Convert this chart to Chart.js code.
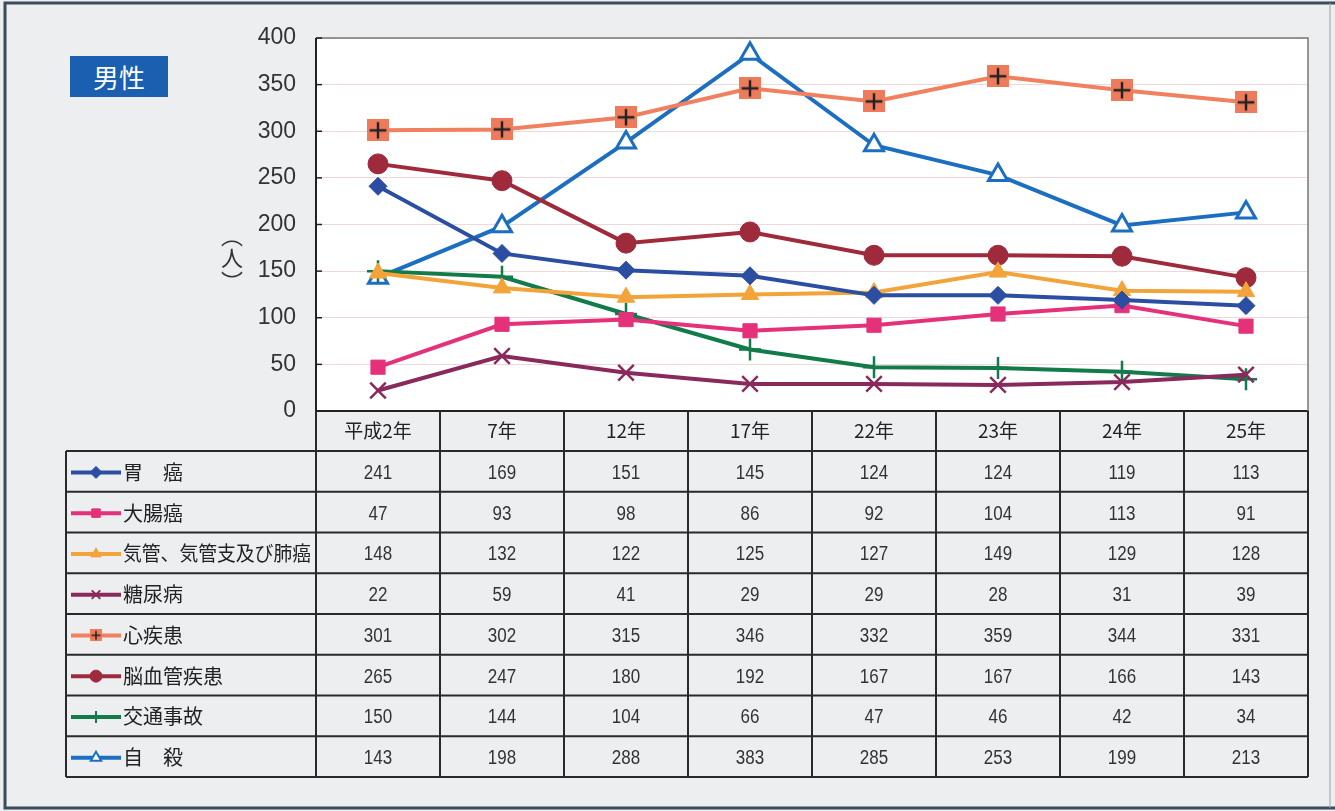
<!DOCTYPE html>
<html>
<head>
<meta charset="utf-8">
<script src="https://cdn.jsdelivr.net/npm/chart.js@4/dist/chart.umd.min.js"></script>
<style>
  body { margin: 0; background: #eceef0; }
  #wrap { position: relative; width: 1335px; height: 811px; }
  #tag {
    position: absolute; left: 70px; top: 56px; width: 98px; height: 41px;
    background: #1a5fb0; color: #fff; font: 26px "Noto Sans CJK JP", sans-serif;
    line-height: 41px; text-align: center;
  }
</style>
</head>
<body>
<div id="wrap">
  <canvas id="myChart" width="1335" height="811"></canvas>
  <div id="tag">男性</div>
</div>
<script>
// categories and series (人)
const years = ['平成2年', '7年', '12年', '17年', '22年', '23年', '24年', '25年'];
const yTicks = [0, 50, 100, 150, 200, 250, 300, 350, 400];
const names = ['胃\u3000癌', '大腸癌', '気管、気管支及び肺癌', '糖尿病', '心疾患', '脳血管疾患', '交通事故', '自\u3000殺'];
const stomach = [241, 169, 151, 145, 124, 124, 119, 113];
const colon = [47, 93, 98, 86, 92, 104, 113, 91];
const lung = [148, 132, 122, 125, 127, 149, 129, 128];
const diabetes = [22, 59, 41, 29, 29, 28, 31, 39];
const heart = [301, 302, 315, 346, 332, 359, 344, 331];
const cerebro = [265, 247, 180, 192, 167, 167, 166, 143];
const traffic = [150, 144, 104, 66, 47, 46, 42, 34];
const suicide = [143, 198, 288, 383, 285, 253, 199, 213];

const numFont = '"Liberation Sans", sans-serif';
const jpFont = '"Noto Sans CJK JP", sans-serif';

// salmon square with black plus for 心疾患
function heartMark(size) {
  const c = document.createElement('canvas');
  c.width = size; c.height = size;
  const g = c.getContext('2d');
  g.fillStyle = '#ee7c5c';
  g.fillRect(0, 0, size, size);
  g.strokeStyle = '#222';
  g.lineWidth = Math.max(1.5, size / 9);
  g.beginPath();
  g.moveTo(size / 2, size * 0.12); g.lineTo(size / 2, size * 0.88);
  g.moveTo(size * 0.12, size / 2); g.lineTo(size * 0.88, size / 2);
  g.stroke();
  return c;
}
const heartBig = heartMark(22);
const heartSmall = heartMark(12);

const series = [
  { data: stomach, color: '#2b4ea2', style: 'rectRot', r: 9, bw: 1, fill: null },
  { data: colon, color: '#e5307a', style: 'rect', r: 10, bw: 1, fill: null },
  { data: lung, color: '#f2a43a', style: 'triangle', r: 10, bw: 1, fill: null },
  { data: diabetes, color: '#8a2a5c', style: 'crossRot', r: 11, bw: 2.5, fill: null },
  { data: heart, color: '#f0805e', style: heartBig, r: 11, bw: 1, fill: null },
  { data: cerebro, color: '#9e2a3c', style: 'circle', r: 10, bw: 1, fill: null },
  { data: traffic, color: '#137a4a', style: 'cross', r: 11, bw: 2.5, fill: null },
  { data: suicide, color: '#1c6fc0', style: 'triangle', r: 11, bw: 3, fill: '#ffffff' }
];

const decor = {
  id: 'decor',
  beforeDraw(chart) {
    const ctx = chart.ctx;
    const a = chart.chartArea;
    ctx.save();
    ctx.fillStyle = '#eceef0';
    ctx.fillRect(0, 0, chart.width, chart.height);
    ctx.fillStyle = '#ffffff';
    ctx.fillRect(a.left, a.top, a.right - a.left, a.bottom - a.top);
    ctx.restore();
  },
  afterDraw(chart) {
    const ctx = chart.ctx;
    const a = chart.chartArea;
    const x = chart.scales.x;
    const y = chart.scales.y;
    ctx.save();
    // plot frame
    ctx.strokeStyle = '#777';
    ctx.lineWidth = 1.5;
    ctx.beginPath();
    ctx.moveTo(a.left, a.top); ctx.lineTo(a.right, a.top); ctx.lineTo(a.right, a.bottom);
    ctx.stroke();
    ctx.strokeStyle = '#222';
    ctx.lineWidth = 2;
    ctx.beginPath();
    ctx.moveTo(a.left, a.top); ctx.lineTo(a.left, a.bottom);
    ctx.stroke();
    // small inner tick marks on y axis
    ctx.lineWidth = 1.5;
    yTicks.forEach(v => {
      const py = y.getPixelForValue(v);
      ctx.beginPath(); ctx.moveTo(a.left, py); ctx.lineTo(a.left + 6, py); ctx.stroke();
    });

    // y unit, vertical
    ctx.fillStyle = '#333';
    ctx.font = '22px ' + jpFont;
    ctx.textAlign = 'center';
    ctx.textBaseline = 'middle';
    ctx.fillText('\uFE35', 232, 236);
    ctx.fillText('人', 232, 258);
    ctx.fillText('\uFE36', 232, 282);

    // data table
    const colW = (a.right - a.left) / years.length;
    const headTop = a.bottom;
    const headBot = a.bottom + 40;
    const rowH = 40.75;
    const tabLeft = 66;
    const tabBot = headBot + rowH * names.length;
    ctx.strokeStyle = '#2a2a2a';
    ctx.lineWidth = 2;
    ctx.beginPath();
    for (let i = 0; i <= years.length; i++) {
      const px = a.left + colW * i;
      ctx.moveTo(px, headTop); ctx.lineTo(px, tabBot);
    }
    ctx.moveTo(tabLeft, headBot); ctx.lineTo(tabLeft, tabBot);
    for (let r = 0; r <= names.length; r++) {
      const py = headBot + rowH * r;
      ctx.moveTo(tabLeft, py); ctx.lineTo(a.right, py);
    }
    ctx.stroke();

    for (let r = 0; r < names.length; r++) {
      const s = series[r];
      const cy = headBot + rowH * r + rowH / 2 + 1;
      // legend sample
      ctx.strokeStyle = s.color;
      ctx.lineWidth = 4;
      ctx.beginPath(); ctx.moveTo(71, cy); ctx.lineTo(121, cy); ctx.stroke();
      if (s.style === heartBig) {
        ctx.drawImage(heartSmall, 96 - 6, cy - 6);
      } else {
        ctx.fillStyle = s.fill || s.color;
        ctx.lineWidth = s.bw > 1 ? 2 : 1;
        Chart.helpers.drawPoint(ctx, { pointStyle: s.style, radius: 6, borderWidth: ctx.lineWidth, rotation: 0 }, 96, cy);
      }
      ctx.fillStyle = '#222';
      ctx.font = '20px ' + jpFont;
      ctx.textAlign = 'left';
      ctx.fillText(names[r], 123, cy, 188);
      ctx.font = '20px ' + numFont;
      ctx.textAlign = 'center';
      ctx.fillStyle = '#333';
      s.data.forEach((v, i) => {
        // narrow digits like the printed table
        ctx.save();
        ctx.translate(x.getPixelForValue(i), cy + 1);
        ctx.scale(0.85, 1);
        ctx.fillText(String(v), 0, 0);
        ctx.restore();
      });
    }

    // outer frame of the sheet
    ctx.strokeStyle = '#3b4b5c';
    ctx.lineWidth = 3;
    ctx.beginPath();
    ctx.moveTo(1335, 3); ctx.lineTo(5, 3); ctx.lineTo(5, 808); ctx.lineTo(1335, 808);
    ctx.stroke();
    ctx.strokeStyle = '#9aa0a6';
    ctx.lineWidth = 1;
    ctx.beginPath(); ctx.moveTo(1330, 3); ctx.lineTo(1330, 808); ctx.stroke();
    ctx.restore();
  }
};

const ctx = document.getElementById('myChart').getContext('2d');
const myChart = new Chart(ctx, {
  type: 'line',
  data: {
    labels: years,
    datasets: series.map((s, i) => ({
      label: names[i],
      data: s.data,
      borderColor: s.color,
      backgroundColor: s.fill || s.color,
      borderWidth: 4,
      tension: 0,
      pointStyle: s.style,
      pointRadius: s.r,
      pointBorderWidth: s.bw,
      pointBorderColor: s.color,
      pointBackgroundColor: s.fill || s.color
    }))
  },
  options: {
    responsive: false,
    animation: false,
    devicePixelRatio: 1,
    layout: { padding: { top: 38, right: 27, left: 0, bottom: 0 } },
    plugins: { legend: { display: false }, tooltip: { enabled: false } },
    scales: {
      x: {
        offset: true,
        grid: { display: false, drawTicks: false },
        border: { display: true, color: '#222', width: 2 },
        ticks: { padding: 8, color: '#222', font: { family: jpFont, size: 19 } },
        afterFit(scale) { scale.height = 400; }
      },
      y: {
        min: 0,
        max: 400,
        afterBuildTicks(scale) { scale.ticks = yTicks.map(v => ({ value: v })); },
        grid: { color: 'rgba(215,170,170,0.45)', lineWidth: 1, drawTicks: false },
        border: { display: false },
        ticks: { padding: 20, color: '#333', font: { family: numFont, size: 23 } },
        afterFit(scale) { scale.width = 316; }
      }
    }
  },
  plugins: [decor]
});
</script>
</body>
</html>
